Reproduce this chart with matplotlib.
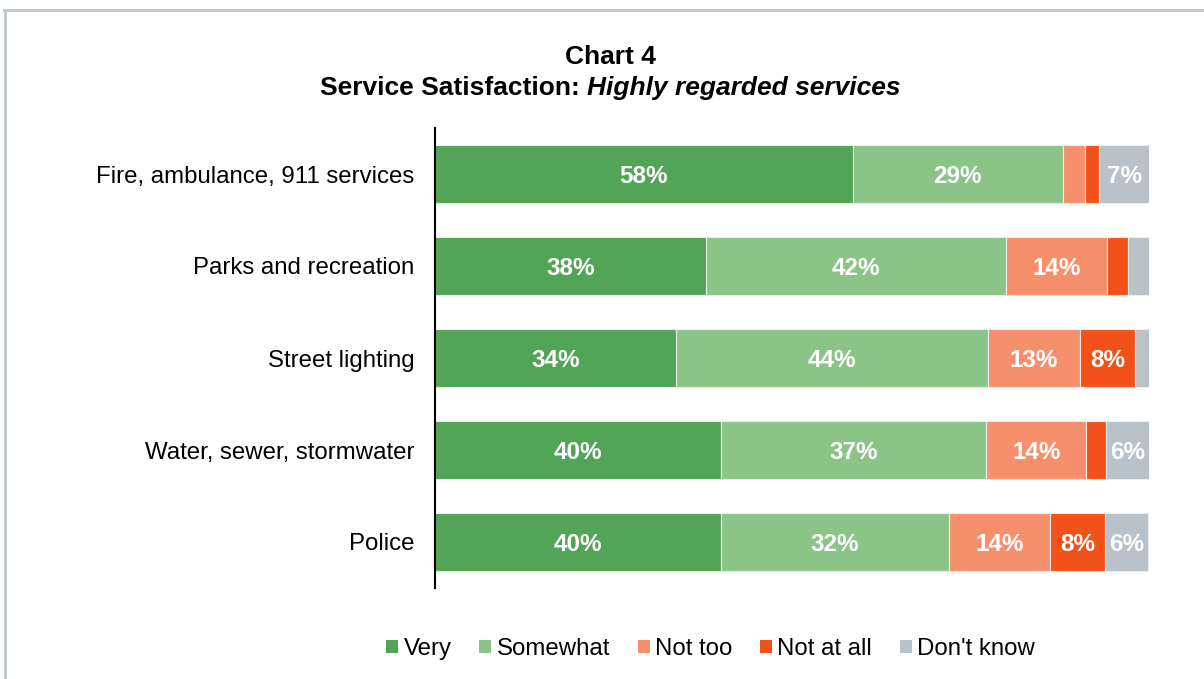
import matplotlib
matplotlib.use("Agg")
import matplotlib.pyplot as plt
from matplotlib.lines import Line2D
from matplotlib.patches import Patch
import numpy as np

plt.rcParams["font.family"] = ["Liberation Sans", "DejaVu Sans"]

services = ["Fire, ambulance, 911 services", "Parks and recreation",
            "Street lighting", "Water, sewer, stormwater", "Police"]
responses = ["Very", "Somewhat", "Not too", "Not at all", "Don't know"]

very = [58.5, 38.0, 33.8, 40.1, 40.1]
somewhat = [29.4, 42.0, 43.6, 37.1, 31.9]
not_too = [3.1, 14.1, 12.9, 14.0, 14.1]
not_at_all = [2.0, 2.9, 7.8, 2.8, 7.8]
dont_know = [7.0, 3.0, 2.0, 6.0, 6.0]

colors = ["#52a557", "#8ac587", "#f6906c", "#f2511a", "#b8c2c8"]

fig = plt.figure(figsize=(12.04, 6.79), dpi=100)
ax = fig.add_axes([435 / 1204, 1 - 588 / 679, 714 / 1204, 460 / 679])

y = np.arange(len(services))
left = np.zeros(len(services))
for vals, col, name in zip([very, somewhat, not_too, not_at_all, dont_know],
                           colors, responses):
    vals = np.array(vals)
    ax.barh(y, vals, left=left, height=0.63, color=col,
            edgecolor="#e9edf0", linewidth=0.8, label=name)
    for yi, (l, v) in enumerate(zip(left, vals)):
        if v >= 5:
            ax.text(l + v / 2, yi, "%.0f%%" % v, ha="center",
                    va="center_baseline", color="white", fontsize=17.5,
                    fontweight="bold")
    left += vals

ax.set_xlim(0, 100)
ax.set_ylim(len(services) - 0.5, -0.5)
ax.set_yticks(y)
ax.set_yticklabels(services, fontsize=17.3)
ax.tick_params(axis="y", length=0, pad=15)
ax.set_xticks([])
for s in ["top", "right", "bottom"]:
    ax.spines[s].set_visible(False)
ax.spines["left"].set_linewidth(1.5)

# title: plain bold line, then bold + bold italic pieces centred together
xc = 610 / 1204
fig.text(xc, 1 - 57 / 679, "Chart 4", ha="center", va="center",
         fontsize=19, fontweight="bold")
t1 = fig.text(0, 1 - 88 / 679, "Service Satisfaction: ", ha="left",
              va="center", fontsize=19, fontweight="bold")
t2 = fig.text(0, 1 - 88 / 679, "Highly regarded services", ha="left",
              va="center", fontsize=19, fontweight="bold", style="italic")
fig.canvas.draw()
r = fig.canvas.get_renderer()
w1 = t1.get_window_extent(r).width / fig.bbox.width
w2 = t2.get_window_extent(r).width / fig.bbox.width
x0 = xc - (w1 + w2) / 2
t1.set_x(x0)
t2.set_x(x0 + w1)

handles = [Patch(facecolor=c, edgecolor="none") for c in colors]
fig.legend(handles, responses, loc="center", ncol=5,
           bbox_to_anchor=(710.5 / 1204, 1 - 649 / 679), frameon=False,
           fontsize=17.3, handlelength=0.5, handleheight=0.5,
           handletextpad=0.22, columnspacing=1.15)

# outer frame (open on the right and bottom)
frame_col = "#bcc6ce"
fig.add_artist(Line2D([4.5 / 1204, 4.5 / 1204], [0, 1 - 10 / 679],
                      color=frame_col, lw=2, transform=fig.transFigure))
fig.add_artist(Line2D([4 / 1204, 1], [1 - 10 / 679, 1 - 10 / 679],
                      color=frame_col, lw=2, transform=fig.transFigure))

fig.savefig("out.png", dpi=100)
